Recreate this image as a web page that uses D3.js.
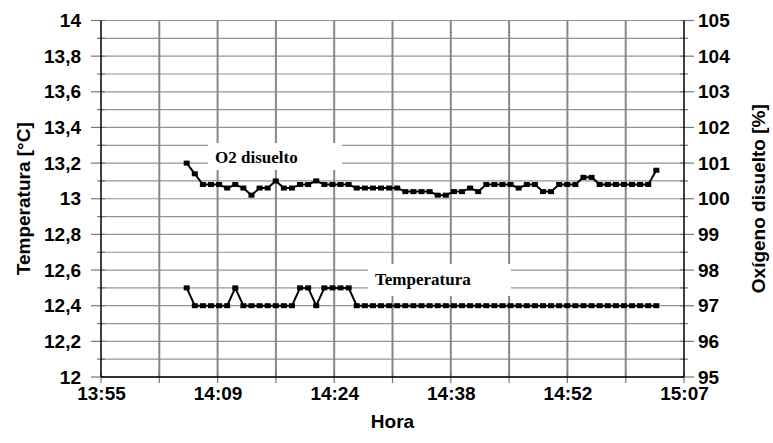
<!DOCTYPE html>
<html>
<head>
<meta charset="utf-8">
<script src="https://cdn.jsdelivr.net/npm/d3@7"></script>
<style>
  html, body { margin: 0; padding: 0; background: #fff; }
  svg { display: block; }
</style>
</head>
<body>
<svg id="chart" width="773" height="443"></svg>
<script>
// Logger readings, one per minute
const times = [
  "14:05:47","14:06:47","14:07:47","14:08:47","14:09:47","14:10:47","14:11:47","14:12:47","14:13:47","14:14:47",
  "14:15:47","14:16:47","14:17:47","14:18:47","14:19:47","14:20:47","14:21:47","14:22:47","14:23:47","14:24:47",
  "14:25:47","14:26:47","14:27:47","14:28:47","14:29:47","14:30:47","14:31:47","14:32:47","14:33:47","14:34:47",
  "14:35:47","14:36:47","14:37:47","14:38:47","14:39:47","14:40:47","14:41:47","14:42:47","14:43:47","14:44:47",
  "14:45:47","14:46:47","14:47:47","14:48:47","14:49:47","14:50:47","14:51:47","14:52:47","14:53:47","14:54:47",
  "14:55:47","14:56:47","14:57:47","14:58:47","14:59:47","15:00:47","15:01:47","15:02:47","15:03:47"
];

// Temperatura [°C]
const temperatura = [
  12.5, 12.4, 12.4, 12.4, 12.4, 12.4, 12.5, 12.4, 12.4, 12.4,
  12.4, 12.4, 12.4, 12.4, 12.5, 12.5, 12.4, 12.5, 12.5, 12.5,
  12.5, 12.4, 12.4, 12.4, 12.4, 12.4, 12.4, 12.4, 12.4, 12.4,
  12.4, 12.4, 12.4, 12.4, 12.4, 12.4, 12.4, 12.4, 12.4, 12.4,
  12.4, 12.4, 12.4, 12.4, 12.4, 12.4, 12.4, 12.4, 12.4, 12.4,
  12.4, 12.4, 12.4, 12.4, 12.4, 12.4, 12.4, 12.4, 12.4
];

// Oxígeno disuelto [%]
const oxigeno = [
  101.0, 100.7, 100.4, 100.4, 100.4, 100.3, 100.4, 100.3, 100.1, 100.3,
  100.3, 100.5, 100.3, 100.3, 100.4, 100.4, 100.5, 100.4, 100.4, 100.4,
  100.4, 100.3, 100.3, 100.3, 100.3, 100.3, 100.3, 100.2, 100.2, 100.2,
  100.2, 100.1, 100.1, 100.2, 100.2, 100.3, 100.2, 100.4, 100.4, 100.4,
  100.4, 100.3, 100.4, 100.4, 100.2, 100.2, 100.4, 100.4, 100.4, 100.6,
  100.6, 100.4, 100.4, 100.4, 100.4, 100.4, 100.4, 100.4, 100.8
];

// Axis ticks (time axis in fractions of a day)
const xTickValues = [0.58, 0.59, 0.60, 0.61, 0.62, 0.63];
const xTickLabels = ["13:55", "14:09", "14:24", "14:38", "14:52", "15:07"];
const yLeftTicks = [12, 12.2, 12.4, 12.6, 12.8, 13, 13.2, 13.4, 13.6, 13.8, 14];
const yLeftLabels = ["12", "12,2", "12,4", "12,6", "12,8", "13", "13,2", "13,4", "13,6", "13,8", "14"];
const yRightTicks = [95, 96, 97, 98, 99, 100, 101, 102, 103, 104, 105];

const toDay = s => {
  const [h, m, sec] = s.split(":").map(Number);
  return (h * 3600 + m * 60 + sec) / 86400;
};

const svg = d3.select("#chart");
const L = 101, R = 684, T = 20.5, B = 377;
const FONT = "'Liberation Sans', Arial, sans-serif";
const SERIF = "'Liberation Serif', 'Times New Roman', serif";
const FS = 19;

const x = d3.scaleLinear().domain([0.58, 0.63]).range([L, R]);
const yL = d3.scaleLinear().domain([12, 14]).range([B, T]);
const yR = d3.scaleLinear().domain([95, 105]).range([B, T]);

svg.append("rect").attr("width", 773).attr("height", 443).attr("fill", "#fff");

// Minor / major gridlines
const hGrid = [];
for (let i = 0; i < yLeftTicks.length; i++) {
  hGrid.push(yLeftTicks[i]);
  if (i < yLeftTicks.length - 1) hGrid.push((yLeftTicks[i] + yLeftTicks[i + 1]) / 2);
}
const vGrid = [];
for (let i = 0; i < xTickValues.length; i++) {
  vGrid.push(xTickValues[i]);
  if (i < xTickValues.length - 1) vGrid.push((xTickValues[i] + xTickValues[i + 1]) / 2);
}

const grid = svg.append("g");
grid.selectAll("line.h").data(hGrid).join("line")
  .attr("x1", L).attr("x2", R)
  .attr("y1", d => yL(d)).attr("y2", d => yL(d))
  .attr("stroke", "#949494").attr("stroke-width", 1.2);
grid.selectAll("line.v").data(vGrid.filter(d => d > 0.58 && d < 0.63)).join("line")
  .attr("x1", d => x(d)).attr("x2", d => x(d))
  .attr("y1", T).attr("y2", B)
  .attr("stroke", "#878787").attr("stroke-width", 2);

// Annotation boxes (drawn over the grid)
function note(text, bx, by, bw, bh, tx, ty) {
  svg.append("rect").attr("x", bx).attr("y", by).attr("width", bw).attr("height", bh).attr("fill", "#fff");
  svg.append("text").attr("x", tx).attr("y", ty)
    .attr("font-family", SERIF).attr("font-weight", "bold").attr("font-size", 17)
    .attr("fill", "#000").text(text);
}
note("O2 disuelto", 208, 143, 134, 27, 215, 163);
note("Temperatura", 368, 264, 143, 32, 375, 285);

// Tick marks
const ticks = svg.append("g").attr("stroke", "#777").attr("stroke-width", 1.2);
hGrid.forEach((v, i) => {
  const major = i % 2 === 0;
  ticks.append("line").attr("x1", L - (major ? 10 : 4)).attr("x2", L + 4).attr("y1", yL(v)).attr("y2", yL(v));
  ticks.append("line").attr("x1", R - 4).attr("x2", R + (major ? 10 : 4)).attr("y1", yL(v)).attr("y2", yL(v));
});
vGrid.forEach(v => {
  ticks.append("line").attr("x1", x(v)).attr("x2", x(v)).attr("y1", B - 5).attr("y2", B + 6);
});

// Axis lines
const axes = svg.append("g").attr("stroke", "#000").attr("stroke-width", 1.5);
axes.append("line").attr("x1", L).attr("x2", L).attr("y1", T).attr("y2", B);
axes.append("line").attr("x1", R).attr("x2", R).attr("y1", T).attr("y2", B);
axes.append("line").attr("x1", L).attr("x2", R).attr("y1", B).attr("y2", B);

// Tick labels via d3 axes (tick lines drawn separately above)
const leftAxis = d3.axisLeft(yL).tickValues(yLeftTicks)
  .tickFormat((d, i) => yLeftLabels[i]).tickSize(0).tickPadding(L - 81);
const rightAxis = d3.axisRight(yR).tickValues(yRightTicks)
  .tickFormat(d => String(d)).tickSize(0).tickPadding(698 - R);
const bottomAxis = d3.axisBottom(x).tickValues(xTickValues)
  .tickFormat((d, i) => xTickLabels[i]).tickSize(0).tickPadding(10);

function styleAxis(g) {
  g.select(".domain").remove();
  g.selectAll("text").attr("font-family", FONT).attr("font-weight", "bold")
    .attr("font-size", FS).attr("fill", "#000");
}
svg.append("g").attr("transform", `translate(${L},0)`).call(leftAxis).call(styleAxis);
svg.append("g").attr("transform", `translate(${R},0)`).call(rightAxis).call(styleAxis);
svg.append("g").attr("transform", `translate(0,${B})`).call(bottomAxis).call(styleAxis);

// Axis titles
svg.append("text").attr("transform", `translate(30,${(T + B) / 2}) rotate(-90)`)
  .attr("text-anchor", "middle").attr("font-family", FONT).attr("font-weight", "bold")
  .attr("font-size", FS).text("Temperatura [°C]");
svg.append("text").attr("transform", `translate(765,${(T + B) / 2}) rotate(-90)`)
  .attr("text-anchor", "middle").attr("font-family", FONT).attr("font-weight", "bold")
  .attr("font-size", FS).text("Oxígeno disuelto [%]");
svg.append("text").attr("x", (L + R) / 2).attr("y", 428)
  .attr("text-anchor", "middle").attr("font-family", FONT).attr("font-weight", "bold")
  .attr("font-size", FS).text("Hora");

// Series
function series(values, yScale) {
  const pts = values.map((v, i) => [x(toDay(times[i])), yScale(v)]);
  svg.append("path").attr("d", d3.line()(pts))
    .attr("fill", "none").attr("stroke", "#000").attr("stroke-width", 2);
  svg.append("g").selectAll("rect").data(pts).join("rect")
    .attr("x", d => d[0] - 3).attr("y", d => d[1] - 2.5)
    .attr("width", 6).attr("height", 5).attr("fill", "#000");
}
series(oxigeno, yR);
series(temperatura, yL);
</script>
</body>
</html>
